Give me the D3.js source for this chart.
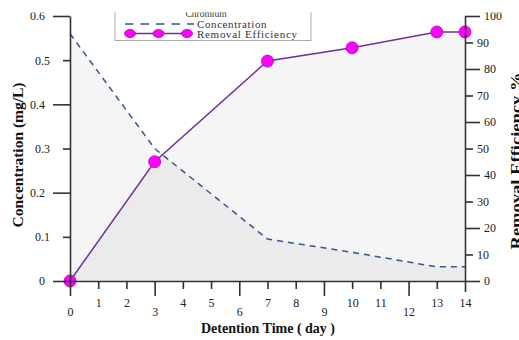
<!DOCTYPE html>
<html>
<head>
<meta charset="utf-8">
<script src="https://cdn.jsdelivr.net/npm/d3@7/dist/d3.min.js"></script>
<style>
  html, body { margin: 0; padding: 0; background: #fff; }
  svg { display: block; font-family: "Liberation Serif", "Times New Roman", serif; }
</style>
</head>
<body>
<svg id="chart" width="519" height="340"></svg>
<script>
// Detention time (days) and measured chromium results
const days = [0, 3, 7, 10, 13, 14];
const concentration = [0.56, 0.30, 0.095, 0.065, 0.032, 0.032];   // mg/L
const removalEfficiency = [0, 45, 83, 88, 94, 94];                 // %

const xTicks = [0, 1, 2, 3, 4, 5, 6, 7, 8, 9, 10, 11, 12, 13, 14];
const xMajorTicks = [0, 3, 6, 9, 12];
const leftTicks = [0, 0.1, 0.2, 0.3, 0.4, 0.5, 0.6];
const leftMajorTicks = [0, 0.2, 0.4, 0.6];
const rightTicks = [0, 10, 20, 30, 40, 50, 60, 70, 80, 90, 100];
const rightMajorTicks = [0, 20, 40, 60, 80, 100];

const svg = d3.select("#chart");
const W = 519, H = 340;
const plotLeft = 70, plotRight = 465, plotTop = 16, plotBottom = 281;

const x = d3.scaleLinear().domain([0, 14]).range([plotLeft, plotRight]);
const yL = d3.scaleLinear().domain([0, 0.6]).range([plotBottom, plotTop]);
const yR = d3.scaleLinear().domain([0, 100]).range([plotBottom, plotTop]);

const concData = days.map((d, i) => ({ d, v: concentration[i] }));
const effData = days.map((d, i) => ({ d, v: removalEfficiency[i] }));

// Shaded areas under both series
const concArea = d3.area().x(p => x(p.d)).y0(yL(0)).y1(p => yL(p.v));
const effArea = d3.area().x(p => x(p.d)).y0(yR(0)).y1(p => yR(p.v));
svg.append("path").datum(concData).attr("d", concArea).attr("fill", "#000").attr("fill-opacity", 0.04);
svg.append("path").datum(effData).attr("d", effArea).attr("fill", "#000").attr("fill-opacity", 0.04);

// Concentration (dashed)
const concLine = d3.line().x(p => x(p.d)).y(p => yL(p.v));
svg.append("path").datum(concData).attr("d", concLine)
  .attr("fill", "none").attr("stroke", "#34578f").attr("stroke-width", 1.5)
  .attr("stroke-dasharray", "6,5");

// Removal efficiency (solid with markers)
const effLine = d3.line().x(p => x(p.d)).y(p => yR(p.v));
svg.append("path").datum(effData).attr("d", effLine)
  .attr("fill", "none").attr("stroke", "#7030a0").attr("stroke-width", 1.5);
svg.append("g").selectAll("circle").data(effData).join("circle")
  .attr("cx", p => x(p.d)).attr("cy", p => yR(p.v)).attr("r", 6)
  .attr("fill", "#ff00ff").attr("stroke", "#b000b8").attr("stroke-width", 0.8);

// Axes
function styleAxis(g) {
  g.select(".domain").attr("stroke", "#333").attr("stroke-width", 1.6);
  g.selectAll(".tick line").attr("stroke", "#333").attr("stroke-width", 1.6);
  g.selectAll(".tick text").attr("fill", "#222").attr("font-size", 12)
    .attr("font-family", "Liberation Serif, Times New Roman, serif");
}

const isMajor = (arr, v) => arr.some(m => Math.abs(m - v) < 1e-9);

const gx = svg.append("g").attr("transform", `translate(0,${plotBottom})`)
  .call(d3.axisBottom(x).tickValues(xTicks).tickSizeOuter(0).tickFormat(d3.format("d")));
styleAxis(gx);
gx.selectAll(".tick line").attr("y2", d => isMajor(xMajorTicks, d) ? 15 : (d === 14 ? 11 : 8));
gx.selectAll(".tick text").attr("dy", 0).attr("y", d => isMajor(xMajorTicks, d) ? 35 : 26);

const gl = svg.append("g").attr("transform", `translate(${plotLeft},0)`)
  .call(d3.axisLeft(yL).tickValues(leftTicks).tickSizeOuter(0)
    .tickFormat(d => d === 0 ? "0" : d3.format(".1f")(d)));
styleAxis(gl);
gl.selectAll(".tick line").attr("x2", d => isMajor(leftMajorTicks, d) ? -17 : -7);
gl.selectAll(".tick text").attr("x", d => isMajor(leftMajorTicks, d) ? -25 : -20);

const gr = svg.append("g").attr("transform", `translate(${plotRight},0)`)
  .call(d3.axisRight(yR).tickValues(rightTicks).tickSizeOuter(0).tickFormat(d3.format("d")));
styleAxis(gr);
gr.selectAll(".tick line").attr("x2", d => isMajor(rightMajorTicks, d) ? 15 : 8);
gr.selectAll(".tick text").attr("x", d => isMajor(rightMajorTicks, d) ? 19 : 12);

// Axis titles
svg.append("text").attr("x", 268).attr("y", 333).attr("text-anchor", "middle")
  .attr("font-size", 14).attr("font-weight", "bold").attr("fill", "#111")
  .text("Detention Time ( day )");
svg.append("text").attr("transform", "translate(23,155) rotate(-90)")
  .attr("text-anchor", "middle").attr("font-size", 14).attr("font-weight", "bold").attr("fill", "#111")
  .attr("textLength", 145).attr("lengthAdjust", "spacingAndGlyphs")
  .text("Concentration (mg/L)");
svg.append("text").attr("transform", "translate(521,161) rotate(-90)")
  .attr("text-anchor", "middle").attr("font-size", 14).attr("font-weight", "bold").attr("fill", "#111")
  .attr("textLength", 177).attr("lengthAdjust", "spacingAndGlyphs")
  .text("Removal Efficiency  %");

// Legend
const lg = svg.append("g");
lg.append("rect").attr("x", 115).attr("y", -5).attr("width", 196).attr("height", 45.5)
  .attr("fill", "#fff").attr("stroke", "#aaa").attr("stroke-width", 1);
lg.append("text").attr("x", 206).attr("y", 16.5).attr("text-anchor", "middle")
  .attr("font-size", 9.5).attr("fill", "#333").text("Chromium");
lg.append("line").attr("x1", 125).attr("x2", 194).attr("y1", 24).attr("y2", 24)
  .attr("stroke", "#34578f").attr("stroke-width", 1.6).attr("stroke-dasharray", "8.5,7");
lg.append("text").attr("x", 197).attr("y", 27.5).attr("font-size", 11).attr("fill", "#333")
  .attr("letter-spacing", 0.6).text("Concentration");
lg.append("line").attr("x1", 130).attr("x2", 187).attr("y1", 33.5).attr("y2", 33.5)
  .attr("stroke", "#7030a0").attr("stroke-width", 1.5);
lg.selectAll("ellipse").data([130, 158.5, 187]).join("ellipse")
  .attr("cx", d => d).attr("cy", 33.5).attr("rx", 5.5).attr("ry", 4)
  .attr("fill", "#ff00ff").attr("stroke", "#b000b8").attr("stroke-width", 0.8);
lg.append("text").attr("x", 197).attr("y", 37.5).attr("font-size", 11).attr("fill", "#333")
  .attr("letter-spacing", 0.7).text("Removal Efficiency");

// Page edge trims the top strip
svg.append("rect").attr("x", 0).attr("y", 0).attr("width", W).attr("height", 12.5).attr("fill", "#fff");
</script>
</body>
</html>
